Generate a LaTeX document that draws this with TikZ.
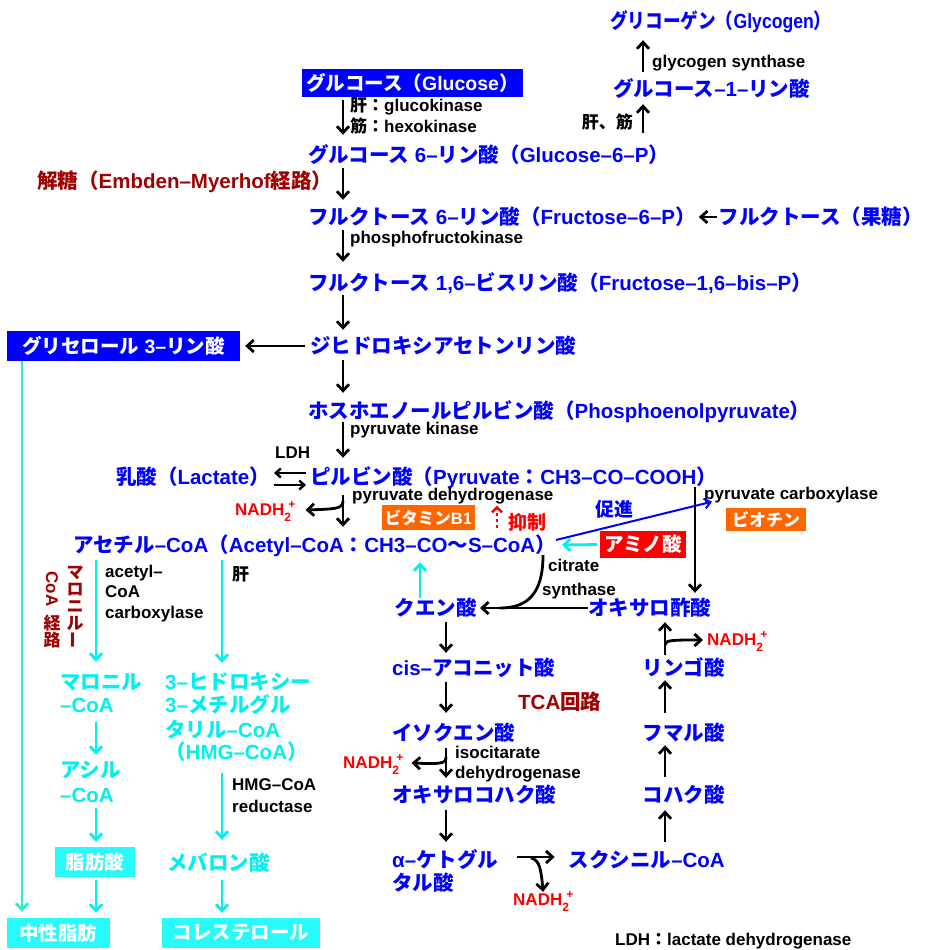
\documentclass[tikz,border=0pt]{standalone}
\usepackage{fontspec}
\setmainfont{Liberation Sans}
\newfontfamily\latfont{Liberation Sans}
\newfontfamily\jpfont{Noto Sans CJK JP}
\usetikzlibrary{arrows.meta}
\XeTeXinterchartokenstate=1
\newXeTeXintercharclass\jpclass
\newcount\jcc
\def\setjp#1#2{\jcc=#1 \loop\XeTeXcharclass\jcc=\jpclass \advance\jcc by 1 \ifnum\jcc<#2 \repeat}
\setjp{"3000}{"3100}
\setjp{"4E00}{"A000}
\setjp{"FF00}{"FFF0}
\XeTeXinterchartoks 0 \jpclass = {\jpfont}
\XeTeXinterchartoks 4095 \jpclass = {\jpfont}
\XeTeXinterchartoks \jpclass 0 = {\latfont}
\XeTeXinterchartoks \jpclass 4095 = {\latfont}
\definecolor{cb}{RGB}{0,0,255}
\definecolor{dred}{RGB}{160,0,0}
\definecolor{rd}{RGB}{255,0,0}
\definecolor{cy}{RGB}{0,240,240}
\definecolor{cyb}{RGB}{40,250,250}
\definecolor{mint}{RGB}{40,240,200}
\definecolor{org}{RGB}{255,102,0}
\newcommand\fbig{\bfseries\fontsize{20.5}{24}\selectfont}
\newcommand\fbx{\bfseries\fontsize{19.5}{22}\selectfont}
\newcommand\fsml{\bfseries\fontsize{17}{20}\selectfont}
\newcommand\fmid{\bfseries\fontsize{19}{22}\selectfont}
\newcommand\fvert{\bfseries\fontsize{17}{17}\selectfont}
\newcommand\fnad{\bfseries\fontsize{17}{19}\selectfont}
\newcommand\nadh{NADH\rlap{\raisebox{-6pt}{\fontsize{12}{12}\selectfont 2}}\hspace{4pt}\raisebox{7pt}{\fontsize{12}{12}\selectfont +}}
\tikzset{
  tx/.style={inner sep=0pt, anchor=west},
  big/.style={tx, font=\fbig, text height=17pt, text depth=3pt},
  sml/.style={tx, font=\fsml, text height=13pt, text depth=2pt},
  bl/.style={big, text=cb},
  dr/.style={big, text=dred},
  cyt/.style={big, text=cy},
  blk/.style={sml, text=black},
  nad/.style={tx, font=\fnad, text=rd, text height=12pt, text depth=2pt},
  tbox/.style={inner sep=0pt, anchor=center, text=white, font=\fbx},
  arr/.style={line width=2.8pt, -{Straight Barb[length=6.5pt,width=12pt]}},
  carr/.style={arr, draw=cy},
  earr/.style={line width=2.4pt, -{Straight Barb[length=5pt,width=9pt]}},
}
\begin{document}
\begin{tikzpicture}[x=1pt,y=-1pt]
\fill[white] (0,0) rectangle (927,950);
\useasboundingbox (0,0) rectangle (927,950);
% column coordinates
\coordinate (xA) at (343,0);
\coordinate (xB) at (643,0);
\coordinate (xC) at (420,0);
\coordinate (xI) at (497,0);
\coordinate (xP) at (695,0);
\coordinate (xS) at (543,0);
\coordinate (xT) at (446,0);
\coordinate (xR) at (665,0);
\coordinate (xG) at (22,0);
\coordinate (xL1) at (96,0);
\coordinate (xL2) at (222,0);

% blue metabolites
\node[bl] (gly) at (610,22) {\scalebox{0.86}[1]{グリコーゲン（Glycogen）}};
\node[bl] (g1p) at (613,89) {グルコース–1–リン酸};
\node[bl] (g6p) at (308,155) {グルコース 6–リン酸（Glucose–6–P）};
\node[bl] (f6p) at (308,217) {フルクトース 6–リン酸（Fructose–6–P）};
\node[bl,anchor=east] (fru) at (923,217) {フルクトース（果糖）};
\node[bl] (f16) at (308,283) {フルクトース 1,6–ビスリン酸（Fructose–1,6–bis–P）};
\node[bl] (dhap) at (310,346) {ジヒドロキシアセトンリン酸};
\node[bl] (pep) at (308,411) {ホスホエノールピルビン酸（Phosphoenolpyruvate）};
\node[bl,anchor=east] (lac) at (270,477) {乳酸（Lactate）};
\node[bl] (pyr) at (310,477) {ピルビン酸（Pyruvate：CH3–CO–COOH）};
\node[bl] (acoa) at (73,545) {アセチル–CoA（Acetyl–CoA：CH3–CO～S–CoA）};
\node[bl,anchor=east] (cit) at (477,608) {クエン酸};
\node[bl] (oxa) at (588,608) {オキサロ酢酸};
\node[bl] (cis) at (392,668) {cis–アコニット酸};
\node[bl] (iso) at (392,733) {イソクエン酸};
\node[bl] (oxs) at (392,795) {オキサロコハク酸};
\node[bl] (akg1) at (392,860) {α–ケトグル};
\node[bl] (akg2) at (392,883) {タル酸};
\node[bl,anchor=east] (suc) at (725,860) {スクシニル–CoA};
\node[bl,anchor=east] (koh) at (725,795) {コハク酸};
\node[bl,anchor=east] (fum) at (725,733) {フマル酸};
\node[bl,anchor=east] (mal) at (725,668) {リンゴ酸};

% dark red titles
\node[dr] (glyc) at (37,181) {解糖（Embden–Myerhof経路）};
\node[dr] (tca) at (518,702) {TCA回路};
\node[tx, anchor=center, font=\fvert, text=dred, align=center] (vm1) at (75,607) {マ\\ロ\\ニ\\ル\\\rotatebox{90}{ー}};
\node[tx, anchor=center, font=\fvert, text=dred, rotate=-90] (vm2) at (52,589) {CoA};
\node[tx, anchor=center, font=\fvert, text=dred, align=center] (vm3) at (52,632) {経\\路};

% black enzyme labels
\node[blk] (gs) at (652,62) {glycogen synthase};
\node[blk,anchor=east] (lm) at (633,123) {肝、筋};
\node[blk] (gk) at (350,106) {肝：glucokinase};
\node[blk] (hk) at (350,127) {筋：hexokinase};
\node[blk] (pfk) at (350,238) {phosphofructokinase};
\node[blk] (pk) at (350,429) {pyruvate kinase};
\node[blk] (ldh) at (275,453) {LDH};
\node[blk] (pdh) at (352,495) {pyruvate dehydrogenase};
\node[blk] (pc) at (704,494) {pyruvate carboxylase};
\node[blk] (cs1) at (548,566) {citrate};
\node[blk] (cs2) at (542,590) {synthase};
\node[blk] (acc1) at (105,572) {acetyl–};
\node[blk] (acc2) at (105,592) {CoA};
\node[blk] (acc3) at (105,613) {carboxylase};
\node[blk] (liv) at (232,575) {肝};
\node[blk] (hr1) at (232,785) {HMG–CoA};
\node[blk] (hr2) at (232,807) {reductase};
\node[blk] (icd1) at (455,753) {isocitarate};
\node[blk] (icd2) at (455,773) {dehydrogenase};
\node[blk] (ldhn) at (615,940) {LDH：lactate dehydrogenase};

% red / blue small
\node[nad] (n1) at (235,510) {\nadh};
\node[nad] (n2) at (343,763) {\nadh};
\node[nad] (n3) at (513,900) {\nadh};
\node[nad] (n4) at (707,640) {\nadh};
\node[tx, font=\fmid, text=rd] (inh) at (508,522) {抑制};
\node[tx, font=\fmid, text=cb] (prom) at (595,509) {促進};

% boxes
\node[tbox, fill=cb, minimum width=221pt, minimum height=28pt] (glc) at (412.5,83) {グルコース（Glucose）};
\node[tbox, fill=cb, minimum width=233pt, minimum height=30pt] (g3p) at (123.5,346) {グリセロール 3–リン酸};
\node[tbox, fill=org, minimum width=93pt, minimum height=25pt, font=\bfseries\fontsize{16.5}{18}\selectfont] (vb1) at (428.5,517.5) {ビタミンB1};
\node[tbox, fill=org, minimum width=80pt, minimum height=23pt, font=\bfseries\fontsize{17}{18}\selectfont] (bio) at (766,519.5) {ビオチン};
\node[tbox, fill=rd, minimum width=86pt, minimum height=27pt, font=\bfseries\fontsize{19.5}{22}\selectfont] (ami) at (643,544.5) {アミノ酸};
\node[tbox, fill=cyb, minimum width=80pt, minimum height=30pt] (fa) at (95,862) {脂肪酸};
\node[tbox, fill=cyb, minimum width=103pt, minimum height=30pt] (tg) at (58.5,933) {中性脂肪};
\node[tbox, fill=cyb, minimum width=158pt, minimum height=30pt] (chol) at (241,933) {コレステロール};

% cyan texts
\node[cyt] (m1) at (60,682) {マロニル};
\node[cyt] (m2) at (60,705) {–CoA};
\node[cyt] (ac1) at (60,770) {アシル};
\node[cyt] (ac2) at (60,795) {–CoA};
\node[cyt] (h1) at (165,682) {3–ヒドロキシー};
\node[cyt] (h2) at (165,705) {3–メチルグル};
\node[cyt] (h3) at (165,730) {タリル–CoA};
\node[cyt] (h4) at (165,752) {（HMG–CoA）};
\node[cyt] (mev) at (167,863) {メバロン酸};

% glycolysis arrows
\draw[arr,shorten <=7pt,shorten >=8pt] (g1p.north -| xB) -- (gly.south -| xB);
\draw[arr,shorten <=12pt,shorten >=5pt] (g6p.north -| xB) -- (g1p.south -| xB);
\draw[arr,shorten <=3pt,shorten >=10pt] (glc.south -| xA) -- (g6p.north -| xA);
\draw[arr,shorten <=3pt,shorten >=7pt] (g6p.south -| xA) -- (f6p.north -| xA);
\draw[arr,shorten <=2pt,shorten >=3pt] (fru.west) -- (fru.west -| f6p.east);
\draw[arr,shorten <=3pt,shorten >=11pt] (f6p.south -| xA) -- (f16.north -| xA);
\draw[arr,shorten <=2pt,shorten >=6pt] (f16.south -| xA) -- (dhap.north -| xA);
\draw[arr,shorten <=5pt,shorten >=5pt] (dhap.west) -- (g3p.east);
\draw[arr,shorten <=4pt,shorten >=8pt] (dhap.south -| xA) -- (pep.north -| xA);
\draw[arr,shorten <=1pt,shorten >=9pt] (pep.south -| xA) -- (pyr.north -| xA);
\draw[earr,shorten <=4pt,shorten >=4pt] ([yshift=4pt]pyr.west) -- ([yshift=4pt]lac.east);
\draw[earr,shorten <=4pt,shorten >=4pt] ([yshift=-8pt]lac.east) -- ([yshift=-8pt]pyr.west);
\draw[arr,shorten <=8pt,shorten >=8pt] (pyr.south -| xA) -- (acoa.north -| xA);
\coordinate (b1) at (343,501);
\draw[arr] (b1) .. controls (343,509) and (335,509) .. ([xshift=10pt]n1.east);
\draw[rd,line width=2.4pt,dash pattern=on 3pt off 3pt,-{Straight Barb[length=5pt,width=10pt]},shorten <=7pt,shorten >=3pt] (acoa.north -| xI) -- (pdh.south -| xI);
\draw[cb,line width=2pt,-{Straight Barb[length=6pt,width=10pt]}] ([yshift=5pt]acoa.east) -- ([xshift=8pt]pc.south west);
\draw[arr,shorten >=5pt] (pyr.south -| xP) -- (oxa.north -| xP);
\draw[carr,shorten <=3pt,shorten >=6pt] (ami.west) -- (acoa.east);
\draw[carr,shorten >=7pt] (cit.north -| xC) -- (acoa.south -| xC);

% TCA
\draw[arr,shorten >=3pt] (oxa.west) -- (cit.east);
\coordinate (cs9) at (500,608);
\draw[line width=2.8pt] (acoa.south -| xS) .. controls +(0,38) and +(28,0) .. (cs9);
\draw[arr,shorten <=4pt,shorten >=5pt] (cit.south -| xT) -- (cis.north -| xT);
\draw[arr,shorten <=4pt,shorten >=10pt] (cis.south -| xT) -- (iso.north -| xT);
\draw[arr,shorten <=5pt,shorten >=7pt] (iso.south -| xT) -- (oxs.north -| xT);
\coordinate (b2) at (446,757);
\draw[arr] (b2) .. controls (446,764) and (440,764) .. ([xshift=8pt]n2.east);
\draw[arr,shorten <=5pt,shorten >=8pt] (oxs.south -| xT) -- (akg1.north -| xT);
\draw[arr,shorten <=19pt,shorten >=14pt] ([yshift=3pt]akg1.east) -- ([yshift=3pt]suc.west);
\coordinate (b3) at (531,858);
\draw[arr,shorten >=1pt] (b3) .. controls (540,860) and (541,870) .. (n3.north);
\draw[arr,shorten <=8pt,shorten >=5pt] (suc.north -| xR) -- (koh.south -| xR);
\draw[arr,shorten <=8pt,shorten >=2pt] (koh.north -| xR) -- (fum.south -| xR);
\draw[arr,shorten <=10pt,shorten >=2pt] (fum.north -| xR) -- (mal.south -| xR);
\draw[arr,shorten <=3pt,shorten >=4pt] (mal.north -| xR) -- (oxa.south -| xR);
\coordinate (b4) at (665,645);
\draw[arr] (b4) .. controls (665,640) and (672,640) .. ([xshift=-4pt]n4.west);

% lipid branch (cyan)
\draw[mint,line width=2.8pt,-{Straight Barb[length=6.5pt,width=12pt]},shorten >=6pt] (g3p.south -| xG) -- (tg.north -| xG);
\draw[carr,shorten <=5pt,shorten >=10pt] (acoa.south -| xL1) -- (m1.north -| xL1);
\draw[carr,shorten <=5pt,shorten >=9pt] (acoa.south -| xL2) -- (h1.north -| xL2);
\draw[carr,shorten <=7pt,shorten >=5pt] (m2.south -| xL1) -- (ac1.north -| xL1);
\draw[carr,shorten <=3pt,shorten >=5pt] (ac2.south -| xL1) -- (fa.north -| xL1);
\draw[carr,shorten <=3pt,shorten >=5pt] (fa.south -| xL1) -- (tg.north -| xL1);
\draw[carr,shorten <=11pt,shorten >=13pt] (h4.south -| xL2) -- (mev.north -| xL2);
\draw[carr,shorten <=7pt,shorten >=5pt] (mev.south -| xL2) -- (chol.north -| xL2);
\end{tikzpicture}
\end{document}
